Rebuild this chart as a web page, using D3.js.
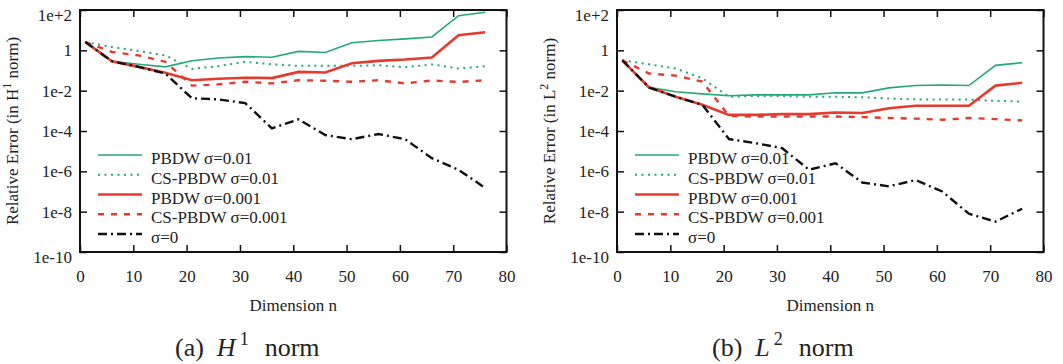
<!DOCTYPE html>
<html>
<head>
	<script src="https://d3js.org/d3.v7.min.js"></script>
	<style>
		body { margin: 0; background: #fff; }
		text { fill: #222; }
	</style>
</head>
<body>
<svg id="container"></svg>
<script>
// data
let dims = [1, 6, 11, 16, 21, 26, 31, 36, 41, 46, 51, 56, 61, 66, 71, 76];

// (a) H1 norm
let h1Pbdw01 = [2.57, 0.288, 0.204, 0.151, 0.302, 0.417, 0.49, 0.457, 0.89, 0.776, 2.4, 3.1, 3.7, 4.6, 52, 78];
let h1Cs01 = [2.57, 1.45, 0.93, 0.56, 0.12, 0.166, 0.27, 0.204, 0.17, 0.17, 0.17, 0.182, 0.145, 0.2, 0.126, 0.162];
let h1Pbdw001 = [2.57, 0.288, 0.151, 0.078, 0.033, 0.039, 0.044, 0.042, 0.085, 0.079, 0.23, 0.30, 0.35, 0.44, 5.6, 7.9];
let h1Cs001 = [2.57, 0.83, 0.56, 0.27, 0.0178, 0.0204, 0.0275, 0.0229, 0.033, 0.031, 0.0275, 0.033, 0.0229, 0.032, 0.027, 0.033];
let h1Sigma0 = [2.57, 0.288, 0.151, 0.071, 4.2e-3, 3.7e-3, 2.4e-3, 1.35e-4, 3.8e-4, 6.3e-5, 3.9e-5, 7.1e-5, 3.9e-5, 4.5e-6, 1.2e-6, 1.5e-7];

// (b) L2 norm
let l2Pbdw01 = [0.32, 0.0145, 0.0089, 0.0069, 0.0056, 0.0062, 0.0062, 0.0062, 0.0079, 0.0078, 0.0138, 0.018, 0.019, 0.018, 0.18, 0.245];
let l2Cs01 = [0.32, 0.204, 0.126, 0.041, 0.005, 0.0055, 0.0055, 0.005, 0.005, 0.0047, 0.0041, 0.0037, 0.0036, 0.0036, 0.0031, 0.0029];
let l2Pbdw001 = [0.32, 0.0145, 0.005, 0.002, 6.3e-4, 6.3e-4, 6.9e-4, 6.9e-4, 8.3e-4, 7.8e-4, 1.35e-3, 1.8e-3, 1.8e-3, 1.8e-3, 0.0178, 0.0245];
let l2Cs001 = [0.32, 0.071, 0.056, 0.028, 5.6e-4, 5.2e-4, 5.2e-4, 5.2e-4, 5.2e-4, 4.9e-4, 4.4e-4, 4.1e-4, 3.6e-4, 4.4e-4, 3.9e-4, 3.3e-4];
let l2Sigma0 = [0.32, 0.0145, 0.005, 0.002, 4.0e-5, 2.5e-5, 1.4e-5, 1.2e-6, 2.5e-6, 2.8e-7, 1.8e-7, 3.7e-7, 1.0e-7, 7.9e-9, 3.2e-9, 1.4e-8];

let xTicks = [0, 10, 20, 30, 40, 50, 60, 70, 80];
let yTicks = [1e2, 1, 1e-2, 1e-4, 1e-6, 1e-8, 1e-10];
let yTickLabels = ['1e+2', '1', '1e-2', '1e-4', '1e-6', '1e-8', '1e-10'];
let legendLabels = ['PBDW σ=0.01', 'CS-PBDW σ=0.01', 'PBDW σ=0.001', 'CS-PBDW σ=0.001', 'σ=0'];
</script>

<script>
// line styles, same order as the legend
let green = '#25a878';
let red = '#e63a2e';
let styles = [
	{color: green, width: 1.6, dash: null},
	{color: green, width: 2, dash: '2,4.5'},
	{color: red, width: 2.6, dash: null},
	{color: red, width: 2.4, dash: '6,7'},
	{color: '#111', width: 2.4, dash: '9,4,2,4'}
];

let serif = "'Liberation Serif', Tinos, 'Nimbus Roman', 'Nimbus Roman No9 L', FreeSerif, 'Times New Roman', Times, 'DejaVu Serif', 'Noto Serif', serif";

let svg = d3.select('#container')
	.attr('width', 1063)
	.attr('height', 364)
	.style('font-family', serif);

let fontSize = 17;

let drawPanel = function(left, series, normLetter, normSup, tag) {
	let w = 426.5, top = 10, bottom = 252;
	let x = d3.scaleLinear().domain([0, 80]).range([0, w]);
	let y = d3.scaleLog().domain([1e-10, 1e2]).range([bottom, top]);

	let g = svg.append('g').attr('transform', `translate(${left},0)`);

	// axes, ticks pointing inward
	g.append('g').attr('transform', `translate(0,${bottom})`)
		.call(d3.axisBottom(x).tickValues(xTicks).tickSizeInner(-7).tickSizeOuter(0).tickPadding(18));
	g.append('g').attr('transform', `translate(0,${top})`)
		.call(d3.axisTop(x).tickValues(xTicks).tickSizeInner(-7).tickSizeOuter(0).tickFormat(''));
	let ly = g.append('g')
		.call(d3.axisLeft(y).tickValues(yTicks).tickSizeInner(-7).tickSizeOuter(0).tickPadding(8)
			.tickFormat((d, i) => yTickLabels[i]));
	g.append('g').attr('transform', `translate(${w},0)`)
		.call(d3.axisRight(y).tickValues(yTicks).tickSizeInner(-7).tickSizeOuter(0).tickFormat(''));

	g.selectAll('.domain').remove();
	g.selectAll('g').attr('font-family', null).style('font-family', serif);
	g.selectAll('.tick line').attr('stroke', '#111').attr('stroke-width', 1.5);
	g.selectAll('.tick text').attr('font-size', fontSize).attr('fill', '#222');
	ly.selectAll('.tick text').filter((d) => d === 1e2 || d === 1e-10).attr('dy', '0.6em');

	// frame
	g.append('rect')
		.attr('x', 0).attr('y', top)
		.attr('width', w).attr('height', bottom - top)
		.attr('fill', 'none')
		.attr('stroke', '#111')
		.attr('stroke-width', 2);

	let line = d3.line()
		.x((d) => x(d[0]))
		.y((d) => y(d[1]));

	series.forEach((vals, i) => {
		g.append('path')
			.datum(dims.map((n, k) => [n, vals[k]]))
			.attr('d', line)
			.attr('fill', 'none')
			.attr('stroke', styles[i].color)
			.attr('stroke-width', styles[i].width)
			.attr('stroke-dasharray', styles[i].dash);
	});

	// legend
	let legend = g.append('g').attr('transform', 'translate(18,155)');
	legendLabels.forEach((lab, i) => {
		let row = legend.append('g').attr('transform', `translate(0,${i * 19.75})`);
		row.append('line')
			.attr('x1', 0).attr('x2', 44)
			.attr('stroke', styles[i].color)
			.attr('stroke-width', styles[i].width)
			.attr('stroke-dasharray', styles[i].dash);
		row.append('text')
			.attr('x', 53).attr('y', 9)
			.attr('font-size', fontSize)
			.text(lab);
	});

	// axis titles
	g.append('text')
		.attr('x', w / 2).attr('y', 311)
		.attr('text-anchor', 'middle')
		.attr('font-size', fontSize)
		.text('Dimension n');

	let yt = g.append('text')
		.attr('transform', `translate(-62,${(top + bottom) / 2}) rotate(-90)`)
		.attr('text-anchor', 'middle')
		.attr('font-size', fontSize);
	yt.append('tspan').text('Relative Error (in ' + normLetter);
	yt.append('tspan').attr('font-size', 12).attr('dy', -7).text(normSup);
	yt.append('tspan').attr('dy', 7).text(' norm)');

	// caption
	let cap = g.append('text')
		.attr('x', 95).attr('y', 356)
		.attr('font-size', 26);
	cap.append('tspan').text('(' + tag + ')');
	cap.append('tspan').attr('dx', 13).attr('font-style', 'italic').text(normLetter);
	cap.append('tspan').attr('dx', 4).attr('dy', -11).attr('font-size', 18).text(normSup);
	cap.append('tspan').attr('dx', 16).attr('dy', 11).text('norm');
}

drawPanel(80, [h1Pbdw01, h1Cs01, h1Pbdw001, h1Cs001, h1Sigma0], 'H', '1', 'a');
drawPanel(617, [l2Pbdw01, l2Cs01, l2Pbdw001, l2Cs001, l2Sigma0], 'L', '2', 'b');
</script>
</body>
</html>
